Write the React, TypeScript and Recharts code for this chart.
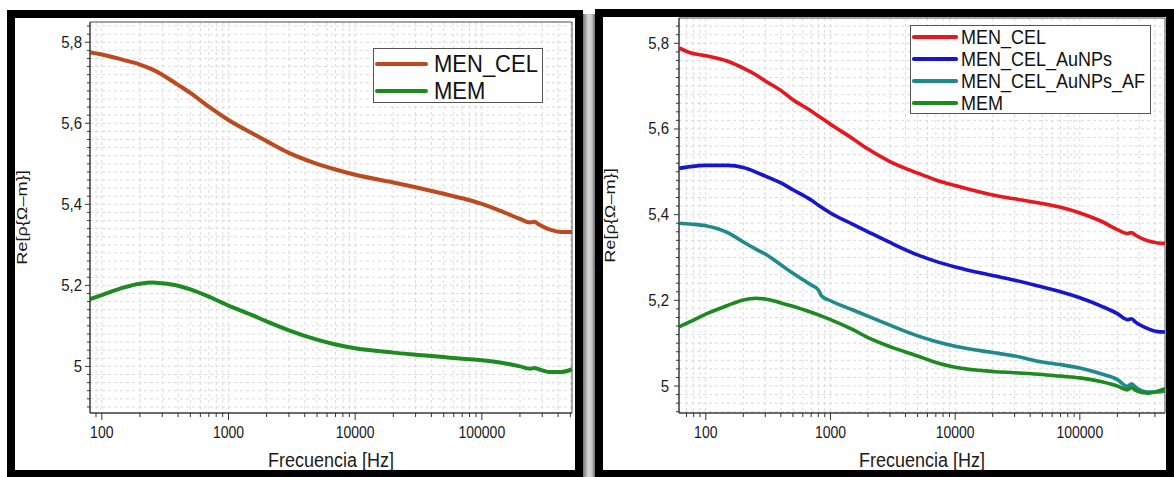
import React from 'react';
import { LineChart, Line, XAxis, YAxis, CartesianGrid, Legend, ReferenceArea } from 'recharts';

const FONT = '"Liberation Sans", Arial, Helvetica, sans-serif';

// ---------- tick labels ----------
const xMajorTicks = [100, 1000, 10000, 100000];
const yMajorTicks = [5, 5.2, 5.4, 5.6, 5.8];

// ---------- left panel data ----------
const freqLeft = [80.7, 100, 150, 200, 250, 300, 400, 500, 700, 1000, 1500, 2000, 3000, 5000, 7000, 10000, 20000, 30000, 50000, 70000, 100000, 150000, 200000, 240000, 260000, 280000, 350000, 420000, 515000];
const menCelLeft = [5.775, 5.770, 5.756, 5.745, 5.733, 5.720, 5.695, 5.675, 5.641, 5.608, 5.577, 5.556, 5.527, 5.500, 5.486, 5.473, 5.454, 5.442, 5.426, 5.415, 5.401, 5.380, 5.364, 5.355, 5.357, 5.351, 5.337, 5.332, 5.332];
const memLeft = [5.166, 5.176, 5.195, 5.204, 5.207, 5.205, 5.199, 5.190, 5.172, 5.150, 5.128, 5.111, 5.089, 5.066, 5.054, 5.045, 5.034, 5.029, 5.023, 5.019, 5.015, 5.008, 5.000, 4.994, 4.996, 4.993, 4.986, 4.986, 4.993];

// ---------- right panel data ----------
const freqRight = [61, 75, 100, 150, 200, 250, 300, 400, 500, 700, 800, 850, 1000, 1500, 2000, 3000, 5000, 7000, 10000, 20000, 30000, 50000, 70000, 100000, 150000, 200000, 240000, 260000, 280000, 350000, 420000, 482000];
const menCelRight = [5.789, 5.778, 5.771, 5.758, 5.742, 5.727, 5.712, 5.690, 5.668, 5.642, 5.630, 5.625, 5.611, 5.578, 5.553, 5.524, 5.497, 5.481, 5.468, 5.446, 5.437, 5.426, 5.417, 5.404, 5.384, 5.365, 5.356, 5.358, 5.352, 5.339, 5.334, 5.333];
const menCelAuRight = [5.508, 5.512, 5.515, 5.515, 5.510, 5.500, 5.490, 5.474, 5.458, 5.434, 5.422, 5.417, 5.404, 5.378, 5.360, 5.335, 5.306, 5.291, 5.278, 5.258, 5.247, 5.231, 5.220, 5.206, 5.186, 5.169, 5.155, 5.157, 5.149, 5.134, 5.127, 5.126];
const menCelAuAfRight = [5.380, 5.378, 5.374, 5.358, 5.336, 5.320, 5.308, 5.283, 5.263, 5.236, 5.224, 5.210, 5.199, 5.178, 5.163, 5.142, 5.117, 5.104, 5.093, 5.078, 5.070, 5.056, 5.050, 5.042, 5.028, 5.015, 4.999, 5.005, 4.997, 4.986, 4.986, 4.988];
const memRight = [5.138, 5.150, 5.168, 5.188, 5.201, 5.205, 5.203, 5.194, 5.186, 5.172, 5.166, 5.163, 5.155, 5.132, 5.113, 5.092, 5.070, 5.055, 5.044, 5.034, 5.031, 5.027, 5.023, 5.019, 5.010, 5.000, 4.991, 4.996, 4.990, 4.983, 4.988, 4.994];

// ---------- helpers ----------
const toData = (fs: number[], vs: number[]) => fs.map((f, i) => ({ f, v: vs[i] }));

function logTicks(lo: number, hi: number): number[] {
  const out: number[] = [];
  for (let d = 10; d <= 1e6; d *= 10) {
    for (let m = 1; m < 10; m++) {
      const v = m * d;
      if (v >= lo && v <= hi) out.push(v);
    }
  }
  return out;
}
function linTicks(lo: number, hi: number, step: number): number[] {
  const out: number[] = [];
  const n = Math.round((hi - lo) / step);
  for (let i = 0; i <= n; i++) out.push(Math.round((lo + i * step) * 1000) / 1000);
  return out;
}
const isMajor = (list: number[], v: number) => list.some((t) => Math.abs(t - v) < 1e-6 * Math.max(1, t));

const XTick = (props: any) => {
  const { x, y, payload } = props;
  const v = payload.value;
  const major = isMajor(xMajorTicks, v);
  return (
    <g>
      <line x1={x} x2={x} y1={y} y2={y + (major ? 7 : 4)} stroke="#333" strokeWidth={1} />
      {major && (
        <text transform={`translate(${x},${y + 25}) scale(1,1.15)`} textAnchor="middle" fontSize={14} fill="#1a1a1a" fontFamily={FONT}>
          {String(v)}
        </text>
      )}
    </g>
  );
};

const makeYTick = (gap: number) => (props: any) => {
  const { x, y, payload } = props;
  const v = payload.value;
  const major = isMajor(yMajorTicks, v);
  return (
    <g>
      <line x1={x} x2={x - (major ? 5 : 3)} y1={y} y2={y} stroke="#333" strokeWidth={1} />
      {major && (
        <text transform={`translate(${x - gap},${y + 5.5}) scale(1,1.1)`} textAnchor="end" fontSize={15} fill="#1a1a1a" fontFamily={FONT}>
          {String(v).replace('.', ',')}
        </text>
      )}
    </g>
  );
};

const yTitle = (cx: number) => (p: any) => {
  const vb = p.viewBox || { x: 0, y: 0, width: 0, height: 0 };
  const x = vb.x + cx;
  const y = vb.y + vb.height / 2;
  return (
    <text transform={`translate(${x},${y}) rotate(-90) scale(1.3,1)`} textAnchor="middle" dominantBaseline="central" fontSize={14} fill="#1a1a1a" fontFamily={FONT}>
      {'Re[ρ{Ω–m}]'}
    </text>
  );
};

const xTitle = (dy: number) => (p: any) => {
  const vb = p.viewBox || { x: 0, y: 0, width: 0, height: 0 };
  const x = vb.x + vb.width / 2;
  const y = vb.y + dy;
  return (
    <text transform={`translate(${x},${y}) scale(1,1.1)`} textAnchor="middle" fontSize={18} fill="#1a1a1a" fontFamily={FONT}>
      Frecuencia [Hz]
    </text>
  );
};

type Series = { name: string; color: string; data: { f: number; v: number }[] };

type LegendCfg = { w: number; h: number; rowH: number; lineLen: number; gap: number; fontSize: number; lineW: number; padTop: number };

const makeLegend = (cfg: LegendCfg, series: Series[]) => () => (
  <div
    style={{
      width: cfg.w,
      height: cfg.h,
      boxSizing: 'border-box',
      border: '1px solid #555',
      background: '#fff',
      paddingTop: cfg.padTop,
      fontFamily: FONT,
      overflow: 'visible',
    }}
  >
    {series.map((s) => (
      <div key={s.name} style={{ display: 'flex', alignItems: 'center', height: cfg.rowH, whiteSpace: 'nowrap' }}>
        <div style={{ flex: '0 0 auto', width: cfg.lineLen, height: cfg.lineW, background: s.color, marginLeft: 1, borderRadius: cfg.lineW / 2 }} />
        <span
          style={{
            flex: '0 0 auto',
            fontSize: cfg.fontSize,
            marginLeft: cfg.gap,
            display: 'inline-block',
            transform: 'scaleY(1.12)',
            color: '#111',
            lineHeight: 1,
            whiteSpace: 'nowrap',
          }}
        >
          {s.name}
        </span>
      </div>
    ))}
  </div>
);

function Panel(props: {
  width: number;
  height: number;
  margin: { top: number; right: number; bottom: number; left: number };
  yAxisWidth: number;
  xDomain: [number, number];
  yDomain: [number, number];
  yStep: number;
  series: Series[];
  lineWidth: number;
  legendPos: { left: number; top: number };
  legendCfg: LegendCfg;
  yTickGap: number;
  yTitleX: number;
}) {
  const xTicks = logTicks(props.xDomain[0], props.xDomain[1]);
  const yTicks = linTicks(Math.ceil(props.yDomain[0] / props.yStep) * props.yStep, props.yDomain[1], props.yStep).filter(
    (v) => v >= props.yDomain[0] && v <= props.yDomain[1]
  );
  return (
    <LineChart width={props.width} height={props.height} margin={props.margin}>
      <CartesianGrid stroke="#d2d2d2" strokeDasharray="3 3" strokeWidth={0.8} />
      <XAxis
        dataKey="f"
        type="number"
        scale="log"
        domain={props.xDomain}
        allowDataOverflow
        ticks={xTicks}
        interval={0}
        tick={<XTick />}
        tickLine={false}
        tickSize={0}
        tickMargin={0}
        height={57}
        axisLine={{ stroke: '#333', strokeWidth: 1 }}
        label={{ content: xTitle(54) } as any}
      />
      <YAxis
        type="number"
        domain={props.yDomain}
        allowDataOverflow
        ticks={yTicks}
        interval={0}
        tick={makeYTick(props.yTickGap) as any}
        tickLine={false}
        tickSize={0}
        tickMargin={0}
        width={props.yAxisWidth}
        axisLine={{ stroke: '#333', strokeWidth: 1 }}
        label={{ content: yTitle(props.yTitleX) } as any}
      />
      <ReferenceArea
        x1={props.xDomain[0]}
        x2={props.xDomain[1]}
        y1={props.yDomain[0]}
        y2={props.yDomain[1]}
        fill="none"
        fillOpacity={0}
        stroke="#555"
        strokeWidth={1}
        ifOverflow="visible"
      />
      {props.series.map((s) => (
        <Line
          key={s.name}
          name={s.name}
          data={s.data}
          dataKey="v"
          type="monotone"
          stroke={s.color}
          strokeWidth={props.lineWidth}
          dot={false}
          activeDot={false}
          isAnimationActive={false}
          strokeLinejoin="round"
        />
      ))}
      <Legend
        layout="vertical"
        align="center"
        verticalAlign="middle"
        wrapperStyle={{ left: props.legendPos.left, top: props.legendPos.top, width: 'auto', right: 'auto', bottom: 'auto' }}
        content={makeLegend(props.legendCfg, props.series) as any}
      />
    </LineChart>
  );
}

export default function App() {
  const leftSeries: Series[] = [
    { name: 'MEN_CEL', color: '#bc4a1e', data: toData(freqLeft, menCelLeft) },
    { name: 'MEM', color: '#1e8a22', data: toData(freqLeft, memLeft) },
  ];
  const rightSeries: Series[] = [
    { name: 'MEN_CEL', color: '#e8171e', data: toData(freqRight, menCelRight) },
    { name: 'MEN_CEL_AuNPs', color: '#1616d0', data: toData(freqRight, menCelAuRight) },
    { name: 'MEN_CEL_AuNPs_AF', color: '#1f8a8c', data: toData(freqRight, menCelAuAfRight) },
    { name: 'MEM', color: '#1c8a1e', data: toData(freqRight, memRight) },
  ];
  return (
    <div style={{ position: 'absolute', left: 0, top: 0, width: 1174, height: 477, background: '#fff', overflow: 'hidden', fontFamily: FONT }}>
      {/* left panel frame */}
      <div style={{ position: 'absolute', left: 7, top: 10, width: 576, height: 468, boxSizing: 'border-box', border: '8px solid #000', background: '#fff' }} />
      <div style={{ position: 'absolute', left: 583, top: 14, width: 12, height: 463, background: 'linear-gradient(to right, #777, #d8d8d8 45%, #c4c4c4 75%, #666)' }} />
      {/* right panel frame */}
      <div style={{ position: 'absolute', left: 595, top: 9, width: 579, height: 469, boxSizing: 'border-box', border: '8px solid #000', background: '#fff' }} />

      <div style={{ position: 'absolute', left: 15, top: 18 }}>
        <Panel
          width={560}
          height={452}
          margin={{ top: 4, right: 3, bottom: 0, left: 0 }}
          yAxisWidth={75}
          xDomain={[80.7, 515000]}
          yDomain={[4.885, 5.85]}
          yStep={0.02}
          series={leftSeries}
          lineWidth={4}
          legendPos={{ left: 358, top: 30 }}
          legendCfg={{ w: 170, h: 55, rowH: 27, lineLen: 53, gap: 6, fontSize: 22, lineW: 4, padTop: 1 }}
          yTickGap={8}
          yTitleX={7}
        />
      </div>
      <div style={{ position: 'absolute', left: 603, top: 17 }}>
        <Panel
          width={563}
          height={453}
          margin={{ top: 1, right: 1, bottom: 0, left: 0 }}
          yAxisWidth={76}
          xDomain={[61, 482000]}
          yDomain={[4.937, 5.859]}
          yStep={0.02}
          series={rightSeries}
          lineWidth={3.6}
          legendPos={{ left: 307, top: 8 }}
          legendCfg={{ w: 241, h: 89, rowH: 22, lineLen: 46, gap: 3, fontSize: 18, lineW: 3.5, padTop: 0 }}
          yTickGap={10}
          yTitleX={7}
        />
      </div>
    </div>
  );
}
